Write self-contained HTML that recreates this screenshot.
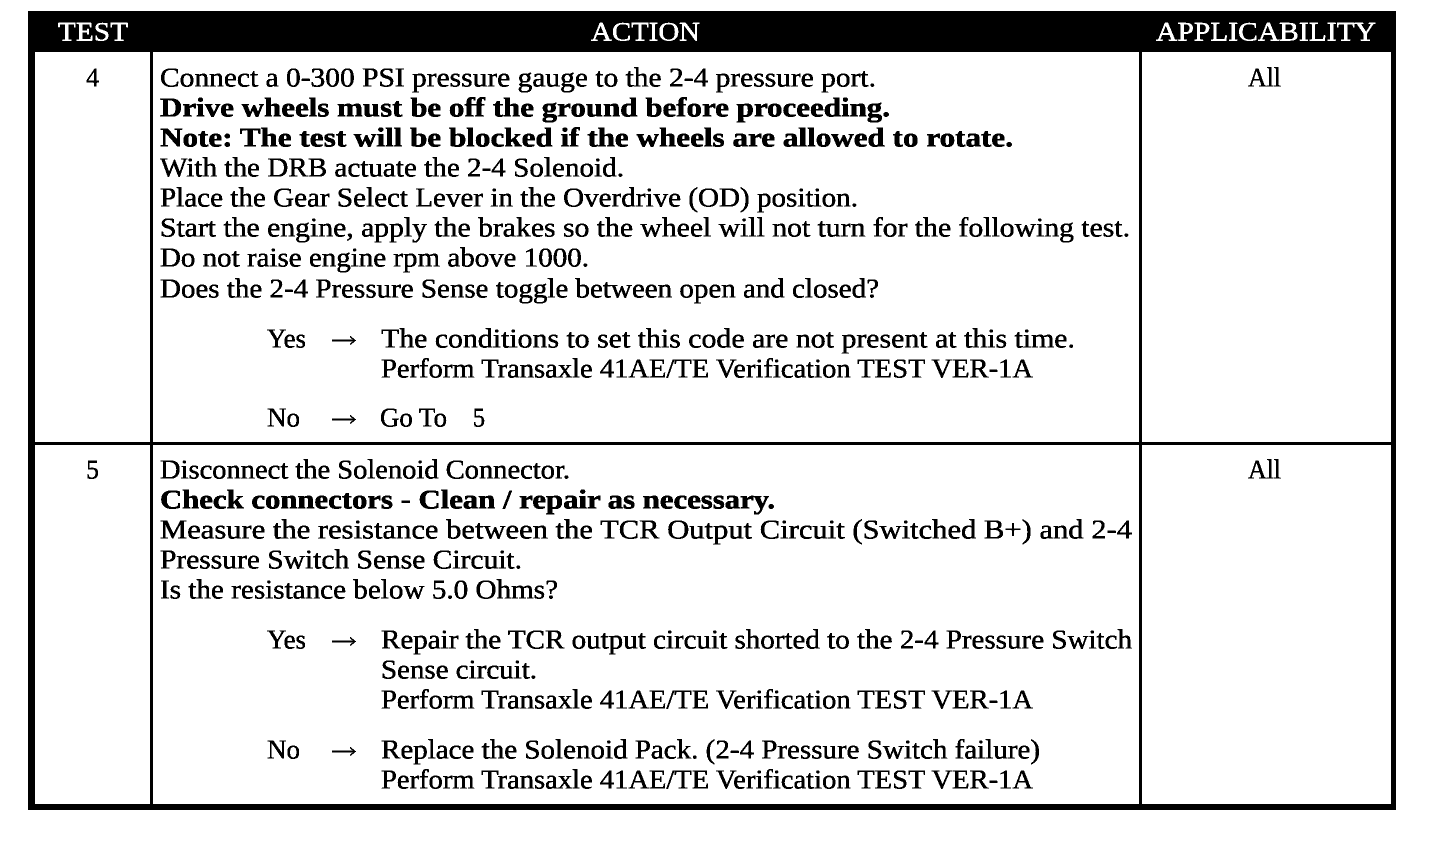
<!DOCTYPE html>
<html>
<head>
<meta charset="utf-8">
<style>
html,body{margin:0;padding:0;background:#fff;width:1456px;height:852px;overflow:hidden}
svg{display:block}
text{font-family:"Liberation Serif",serif;font-size:27px;fill:#000;stroke:#000;stroke-width:.5px}
.b{font-weight:bold;stroke-width:.6px}
.h{fill:#fff;stroke:#fff;font-size:26px;stroke-width:.5px}
.a{fill:none;stroke:#000;stroke-width:1.4px}
</style>
</head>
<body>
<svg width="1456" height="852" viewBox="0 0 1456 852" xmlns="http://www.w3.org/2000/svg">
<defs>
<filter id="bw" x="0" y="0" width="100%" height="100%" color-interpolation-filters="sRGB">
<feComponentTransfer>
<feFuncR type="discrete" tableValues="0 1"/>
<feFuncG type="discrete" tableValues="0 1"/>
<feFuncB type="discrete" tableValues="0 1"/>
</feComponentTransfer>
</filter>
</defs>
<g filter="url(#bw)">
<rect width="1456" height="852" fill="#fff"/>
<rect x="28" y="11" width="1368" height="41" fill="#000"/>
<rect x="28" y="11" width="7" height="799" fill="#000"/>
<rect x="1391" y="11" width="5" height="799" fill="#000"/>
<rect x="28" y="804" width="1368" height="6" fill="#000"/>
<rect x="28" y="442" width="1368" height="3" fill="#000"/>
<rect x="150" y="11" width="3" height="799" fill="#000"/>
<rect x="1139" y="11" width="3" height="799" fill="#000"/>

<text class="h" x="58" y="40.5" textLength="70" lengthAdjust="spacingAndGlyphs">TEST</text>
<text class="h" x="591" y="40.5" textLength="109" lengthAdjust="spacingAndGlyphs">ACTION</text>
<text class="h" x="1156" y="40.5" textLength="220" lengthAdjust="spacingAndGlyphs">APPLICABILITY</text>

<text x="86" y="86.5" textLength="13" lengthAdjust="spacingAndGlyphs">4</text>
<text x="1248" y="86.5" textLength="33" lengthAdjust="spacingAndGlyphs">All</text>
<text x="160" y="86.5" textLength="716" lengthAdjust="spacingAndGlyphs">Connect a 0-300 PSI pressure gauge to the 2-4 pressure port.</text>
<text class="b" x="160" y="116.5" textLength="730" lengthAdjust="spacingAndGlyphs">Drive wheels must be off the ground before proceeding.</text>
<text class="b" x="160" y="146.5" textLength="853" lengthAdjust="spacingAndGlyphs">Note: The test will be blocked if the wheels are allowed to rotate.</text>
<text x="160" y="176.5" textLength="464" lengthAdjust="spacingAndGlyphs">With the DRB actuate the 2-4 Solenoid.</text>
<text x="160" y="206.5" textLength="698" lengthAdjust="spacingAndGlyphs">Place the Gear Select Lever in the Overdrive (OD) position.</text>
<text x="160" y="236.5" textLength="970" lengthAdjust="spacingAndGlyphs">Start the engine, apply the brakes so the wheel will not turn for the following test.</text>
<text x="160" y="266.5" textLength="429" lengthAdjust="spacingAndGlyphs">Do not raise engine rpm above 1000.</text>
<text x="160" y="297.5" textLength="719" lengthAdjust="spacingAndGlyphs">Does the 2-4 Pressure Sense toggle between open and closed?</text>

<text x="267" y="347.5" textLength="39" lengthAdjust="spacingAndGlyphs">Yes</text>
<path class="a" d="M332 340.5H355M350 336.5L355 340.5L350 344.5"/>
<text x="381" y="347.5" textLength="694" lengthAdjust="spacingAndGlyphs">The conditions to set this code are not present at this time.</text>
<text x="381" y="377.5" textLength="652" lengthAdjust="spacingAndGlyphs">Perform Transaxle 41AE/TE Verification TEST VER-1A</text>
<text x="267" y="426.5" textLength="33" lengthAdjust="spacingAndGlyphs">No</text>
<path class="a" d="M332 419.5H355M350 415.5L355 419.5L350 423.5"/>
<text x="380" y="426.5" textLength="67" lengthAdjust="spacingAndGlyphs">Go To</text>
<text x="473" y="426.5" textLength="12" lengthAdjust="spacingAndGlyphs">5</text>

<text x="86" y="478.5" textLength="13" lengthAdjust="spacingAndGlyphs">5</text>
<text x="1248" y="478.5" textLength="33" lengthAdjust="spacingAndGlyphs">All</text>
<text x="160" y="478.5" textLength="410" lengthAdjust="spacingAndGlyphs">Disconnect the Solenoid Connector.</text>
<text class="b" x="160" y="508.5" textLength="615" lengthAdjust="spacingAndGlyphs">Check connectors - Clean / repair as necessary.</text>
<text x="160" y="538.5" textLength="972" lengthAdjust="spacingAndGlyphs">Measure the resistance between the TCR Output Circuit (Switched B+) and 2-4</text>
<text x="160" y="568.5" textLength="362" lengthAdjust="spacingAndGlyphs">Pressure Switch Sense Circuit.</text>
<text x="160" y="598.5" textLength="398" lengthAdjust="spacingAndGlyphs">Is the resistance below 5.0 Ohms?</text>

<text x="267" y="648.5" textLength="39" lengthAdjust="spacingAndGlyphs">Yes</text>
<path class="a" d="M332 641.5H355M350 637.5L355 641.5L350 645.5"/>
<text x="381" y="648.5" textLength="751" lengthAdjust="spacingAndGlyphs">Repair the TCR output circuit shorted to the 2-4 Pressure Switch</text>
<text x="381" y="678.5" textLength="156" lengthAdjust="spacingAndGlyphs">Sense circuit.</text>
<text x="381" y="708.5" textLength="652" lengthAdjust="spacingAndGlyphs">Perform Transaxle 41AE/TE Verification TEST VER-1A</text>
<text x="267" y="758.5" textLength="33" lengthAdjust="spacingAndGlyphs">No</text>
<path class="a" d="M332 751.5H355M350 747.5L355 751.5L350 755.5"/>
<text x="381" y="758.5" textLength="659" lengthAdjust="spacingAndGlyphs">Replace the Solenoid Pack. (2-4 Pressure Switch failure)</text>
<text x="381" y="788.5" textLength="652" lengthAdjust="spacingAndGlyphs">Perform Transaxle 41AE/TE Verification TEST VER-1A</text>
</g>
</svg>
</body>
</html>
